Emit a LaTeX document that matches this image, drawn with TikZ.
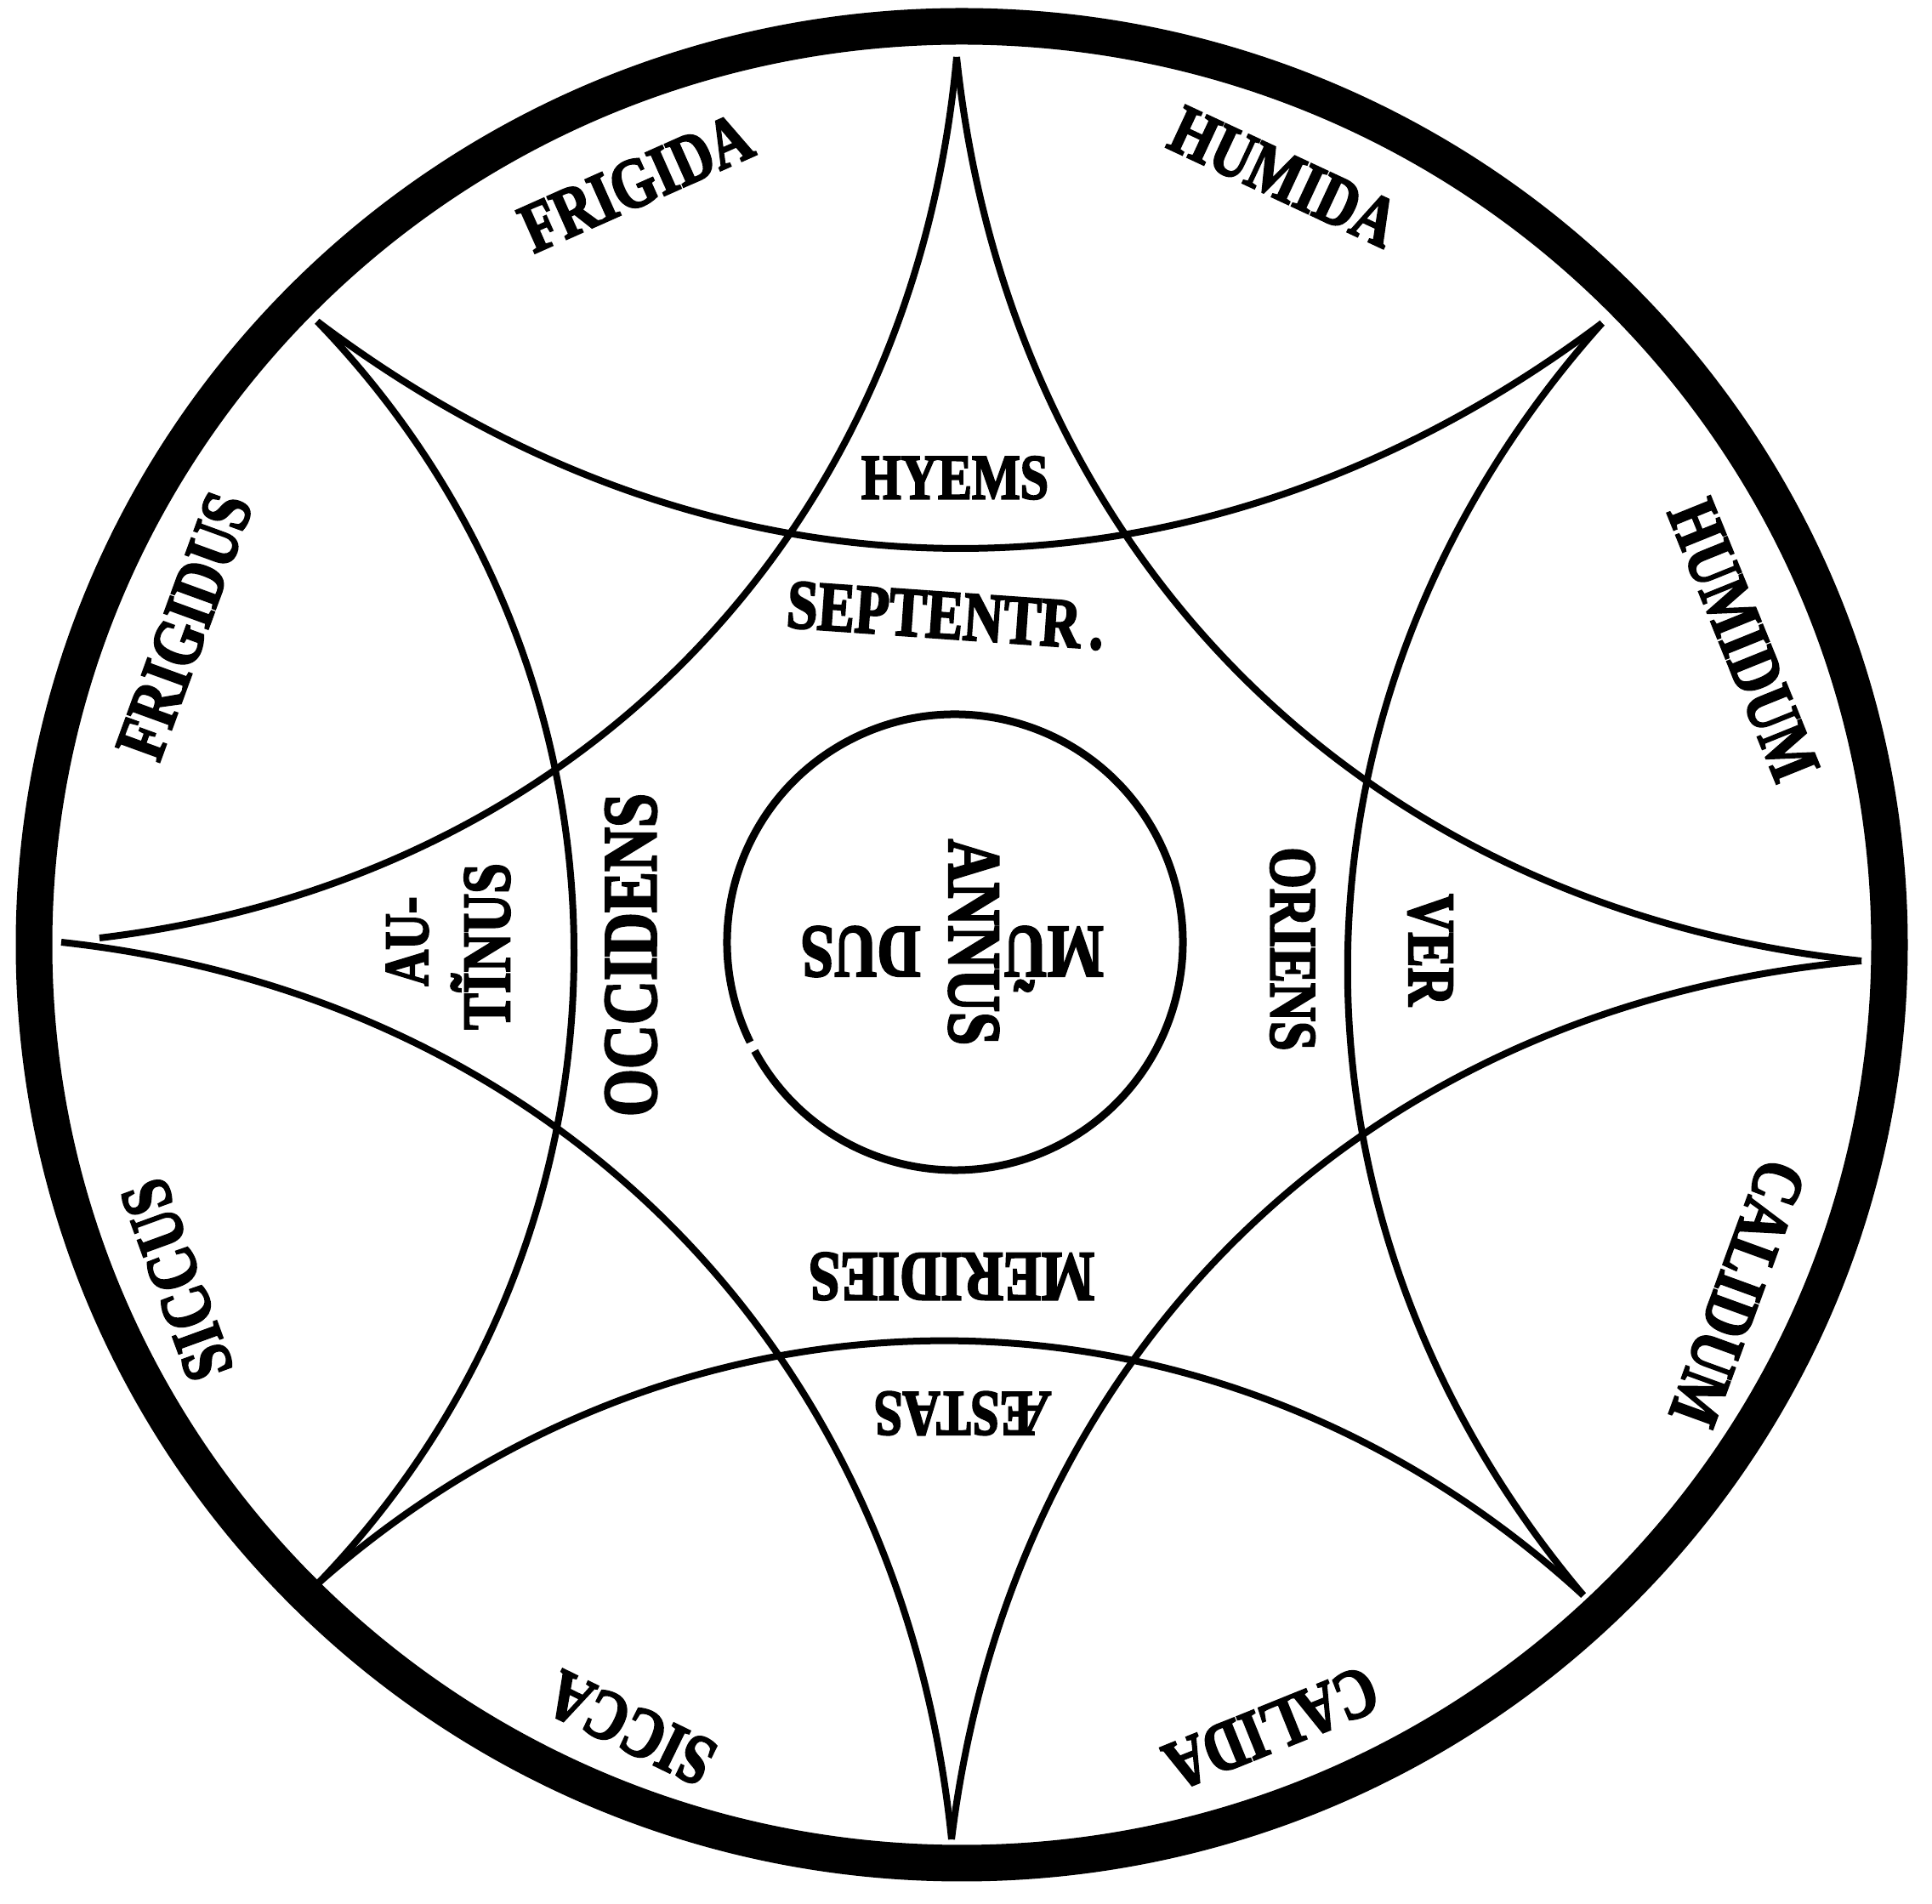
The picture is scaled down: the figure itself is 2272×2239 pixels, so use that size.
\documentclass[tikz,border=0pt]{standalone}
\usepackage{fontspec}
\newfontfamily\lab[FakeBold=3]{Liberation Serif}
\begin{document}
\begin{tikzpicture}[x=0.5pt,y=0.5pt,
  lbl/.style={font=\lab\bfseries\fontsize{#1}{#1}\selectfont, inner sep=0pt, transform shape},
  cond/.style={xscale=0.8},
  arcline/.style={line width=4pt, line cap=butt},
  ring/.style={line width=21.5pt},
  innerring/.style={line width=4.5pt}]
\useasboundingbox (0,0) rectangle (2272,2239);
% outer ring
\coordinate (O) at (1131,1128);
\draw[ring] (O) ellipse [x radius=545.5pt, y radius=540pt];
% star tips
\coordinate (T) at (1125,2172);
\coordinate (B) at (1119,76);
\coordinate (L) at (72,1131);
\coordinate (L2) at (117,1136);
\coordinate (R) at (2189,1109);
\coordinate (TL) at (373,1861);
\coordinate (TR) at (1884,1859);
\coordinate (BL) at (374,377);
\coordinate (BR) at (1862,363);
% first curved square
\draw[arcline] (T) to[bend left=39] (L2);
\draw[arcline] (L) to[bend left=39] (B);
\draw[arcline] (B) to[bend left=39] (R);
\draw[arcline] (R) to[bend left=39] (T);
% second curved square
\draw[arcline] (TR) to[bend left=37] (TL);
\draw[arcline] (TL) to[bend left=44] (BL);
\draw[arcline] (BL) to[bend left=42] (BR);
\draw[arcline] (BR) to[bend left=41] (TR);
% inner circle
\coordinate (C) at (1123,1131);
\draw[innerring] (C) ++(208.5:134pt) arc[start angle=208.5, end angle=566, radius=134pt];
% outer labels
\node[lbl=41.5, rotate=24, cond] (frigida) at (748,2024) {FRIGIDA};
\node[lbl=41.5, rotate=-25, cond] (humida) at (1510,2031) {HUMIDA};
\node[lbl=41.5, rotate=-68, cond] (humidum) at (2050,1486) {HUMIDUM};
\node[lbl=41.5, rotate=-110, cond] (calidum) at (2043,718) {CALIDUM};
\node[lbl=41.5, rotate=-158, cond] (calida) at (1495,207) {CALIDA};
\node[lbl=41.5, rotate=154, cond] (sicca) at (742,207) {SICCA};
\node[lbl=41.5, rotate=110, cond] (siccus) at (208,734) {SICCUS};
\node[lbl=41.5, rotate=70, cond] (frigidus) at (217,1503) {FRIGIDUS};
% inner labels
\node[lbl=37.5, cond] (hyems) at (1123,1677) {HYEMS};
\node[lbl=41, rotate=-4, cond] (sept) at (1112,1515) {SEPTENTR\,.};
\node[lbl=39, rotate=-90, cond] (oriens) at (1520,1123) {ORIENS};
\node[lbl=39, rotate=-90, cond] (ver) at (1682,1122) {VER};
\node[lbl=41.5, rotate=180, cond] (meridies) at (1119,738) {MERIDIES};
\node[lbl=38, rotate=180, cond] (aestas) at (1132,577) {ÆSTAS};
\node[lbl=45, rotate=90, cond] (occidens) at (742,1116) {OCCIDENS};
\node[lbl=40, rotate=90, cond] (tinus) at (573,1126) {T\smash{Ĩ}NUS};
\node[lbl=37, rotate=90, cond] (au) at (479,1132) {AU-};
% centre
\node[lbl=44, rotate=-90, cond] (annus) at (1145,1131) {ANNUS};
\node[lbl=44, rotate=180, cond] (mu) at (1239,1120) {M\smash{Ũ}};
\node[lbl=44, rotate=180, cond] (dus) at (1012,1120) {DUS};
\end{tikzpicture}
\end{document}
